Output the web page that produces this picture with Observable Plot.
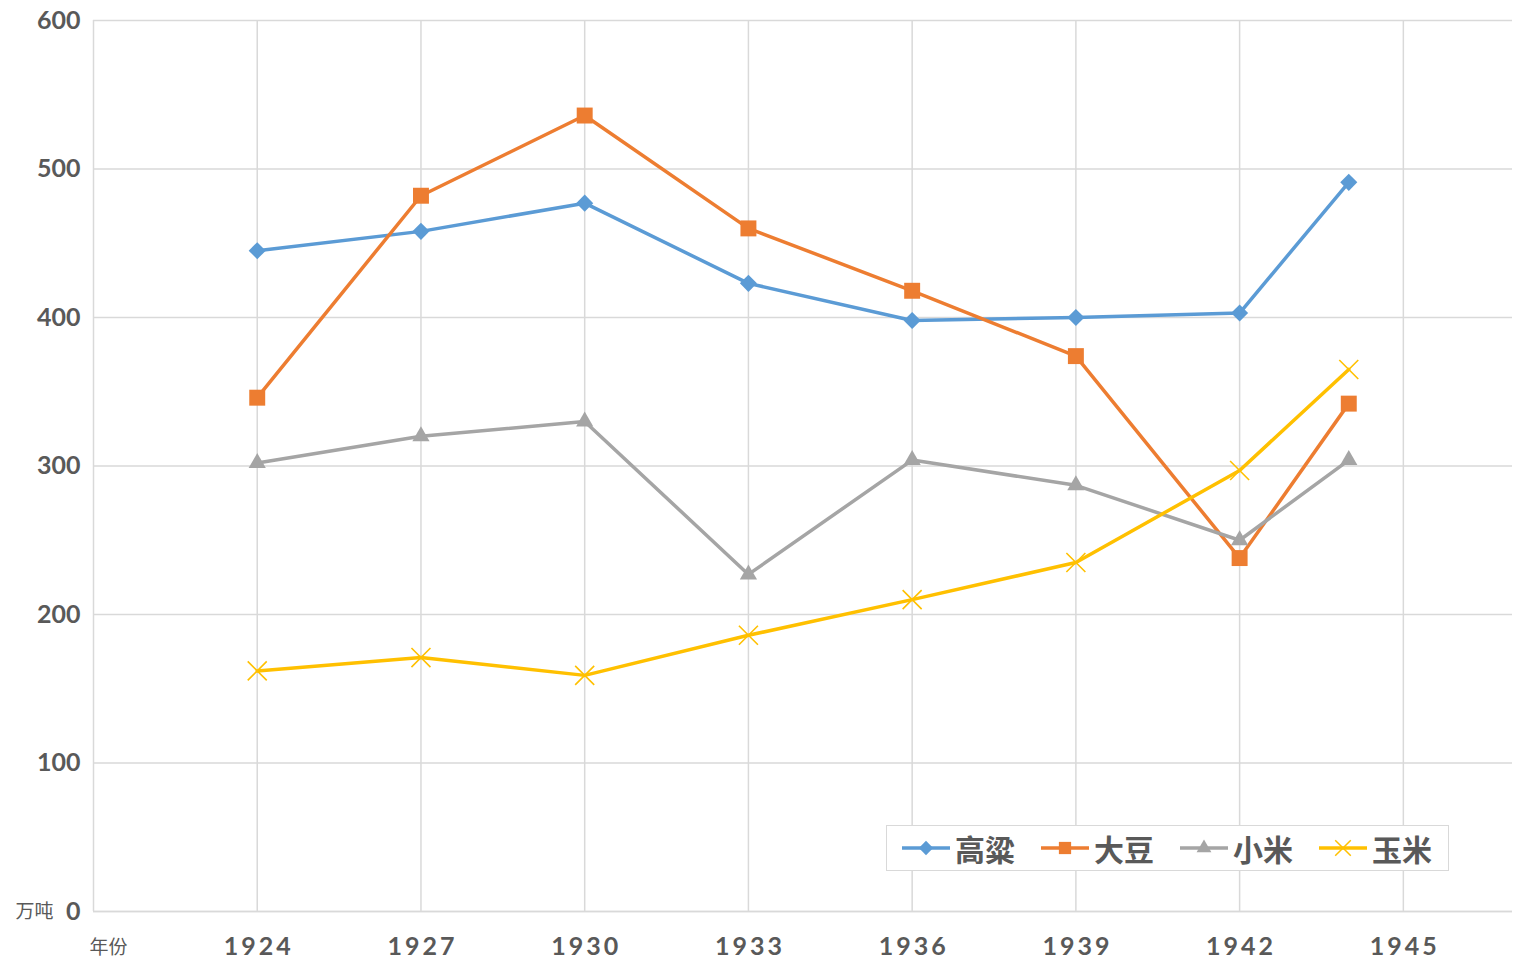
<!DOCTYPE html>
<html><head><meta charset="utf-8">
<script src="https://cdn.jsdelivr.net/npm/d3@7"></script>
<script src="https://cdn.jsdelivr.net/npm/@observablehq/plot@0.6"></script>
<style>
body{margin:0;background:#fff;}
#wrap{position:relative;width:1536px;height:975px;}
#legend{position:absolute;left:886px;top:825px;width:563px;height:46px;border:1.5px solid #d9d9d9;background:#fff;display:flex;align-items:center;padding-left:15px;box-sizing:border-box;font-family:"Noto Sans CJK SC",sans-serif;font-weight:700;font-size:30px;line-height:1;color:#595959;white-space:nowrap;}
.item{display:flex;align-items:center;margin-right:26px;flex-shrink:0;}
.item svg{margin-right:5px;flex-shrink:0;}
g[aria-label="x-axis tick label"] text{letter-spacing:3px;}
</style></head>
<body><div id="wrap"></div>
<script>
const years = [1924, 1927, 1930, 1933, 1936, 1939, 1942, 1944];
const sorghum = [445, 458, 477, 423, 398, 400, 403, 491];   // 高粱
const soybean = [346, 482, 536, 460, 418, 374, 238, 342];   // 大豆
const millet  = [302, 320, 330, 227, 304, 287, 250, 304];   // 小米
const corn    = [162, 171, 159, 186, 210, 235, 297, 365];   // 玉米
const seriesNames = ["高粱", "大豆", "小米", "玉米"];
const seriesColors = ["#5B9BD5", "#ED7D31", "#A5A5A5", "#FFC000"];
const xTicks = [1924, 1927, 1930, 1933, 1936, 1939, 1942, 1945];
const yTicks = [0, 100, 200, 300, 400, 500, 600];
const yUnit = "万吨";
const xUnit = "年份";

const allValues = [sorghum, soybean, millet, corn];
const data = [];
seriesNames.forEach((s, i) => years.forEach((yr, j) => data.push({series: s, year: yr, value: allValues[i][j]})));
const sub = s => data.filter(d => d.series === s);

const grid = "#d9d9d9";
const chart = Plot.plot({
  width: 1536, height: 975,
  marginLeft: 93, marginRight: 24, marginTop: 20, marginBottom: 64,
  style: {fontFamily: "Lato, sans-serif", color: "#595959", background: "#fff"},
  x: {domain: [1921, 1947]},
  y: {domain: [0, 600]},
  color: {domain: seriesNames, range: seriesColors},
  marks: [
    Plot.gridY(yTicks, {stroke: grid, strokeOpacity: 1, strokeWidth: 1.5}),
    Plot.gridX(xTicks, {stroke: grid, strokeOpacity: 1, strokeWidth: 1.5}),
    Plot.ruleX([1921], {stroke: grid, strokeWidth: 1.5}),
    Plot.ruleY([0], {stroke: grid, strokeWidth: 1.5}),
    Plot.axisY(yTicks, {tickSize: 0, tickPadding: 13, fontSize: 25, fontWeight: 700, fill: "#595959", label: null}),
    Plot.axisX(xTicks, {tickSize: 0, tickPadding: 26, fontSize: 25, fontWeight: 700, fill: "#595959", tickFormat: "d", label: null, dx: 1.5}),
    Plot.text([yUnit], {frameAnchor: "bottom-left", dx: -40, textAnchor: "end", lineAnchor: "middle", fontSize: 19, fill: "#595959", fontFamily: "Noto Sans CJK SC"}),
    Plot.text([xUnit], {frameAnchor: "bottom-left", dx: 15, dy: 36, textAnchor: "middle", lineAnchor: "middle", fontSize: 19, fill: "#595959", fontFamily: "Noto Sans CJK SC"}),
    Plot.line(data, {x: "year", y: "value", stroke: "series", z: "series", strokeWidth: 3.5}),
    Plot.dot(sub("高粱"), {x: "year", y: "value", symbol: "diamond2", r: 7.7, fill: seriesColors[0], stroke: "none"}),
    Plot.dot(sub("大豆"), {x: "year", y: "value", symbol: "square", r: 9, fill: seriesColors[1], stroke: "none"}),
    Plot.dot(sub("小米"), {x: "year", y: "value", symbol: "triangle", r: 6.4, fill: seriesColors[2], stroke: "none"}),
    Plot.dot(sub("玉米"), {x: "year", y: "value", symbol: "times", r: 8.7, stroke: seriesColors[3], strokeWidth: 1.6})
  ]
});
const wrap = document.getElementById("wrap");
wrap.appendChild(chart);

// legend
const legend = document.createElement("div");
legend.id = "legend";
const symTypes = [d3.symbolDiamond2, d3.symbolSquare, d3.symbolTriangle, d3.symbolTimes];
const symSizes = [130, 150, 95, 160];
seriesNames.forEach((s, i) => {
  const item = document.createElement("div");
  item.className = "item";
  const svg = d3.create("svg").attr("width", 48).attr("height", 24);
  svg.append("line").attr("x1", 0).attr("x2", 48).attr("y1", 12).attr("y2", 12).attr("stroke", seriesColors[i]).attr("stroke-width", 3.5);
  const p = svg.append("path").attr("transform", "translate(24,12)").attr("d", d3.symbol(symTypes[i], symSizes[i])());
  if (i === 3) p.attr("fill", "none").attr("stroke", seriesColors[i]).attr("stroke-width", 1.5);
  else p.attr("fill", seriesColors[i]);
  item.appendChild(svg.node());
  const t = document.createElement("span");
  t.textContent = s;
  item.appendChild(t);
  legend.appendChild(item);
});
wrap.appendChild(legend);
</script></body></html>
